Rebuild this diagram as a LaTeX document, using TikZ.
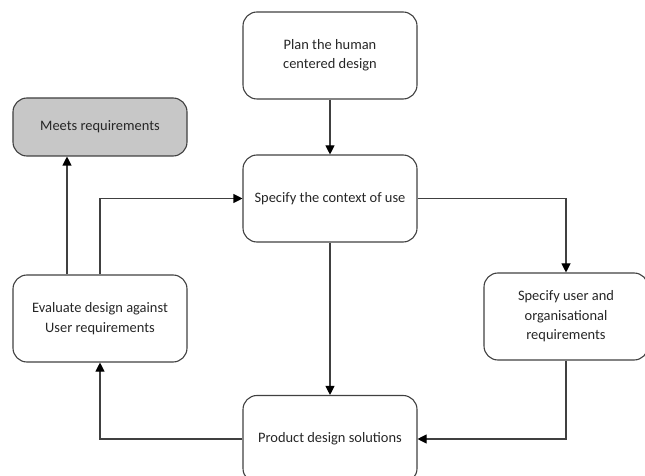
\documentclass[tikz,border=0pt]{standalone}
\usepackage{fontspec}
\setmainfont{Carlito}
\usetikzlibrary{arrows.meta}

\begin{document}
\begin{tikzpicture}
[x=1bp,y=-1bp,every node/.style={draw=black!75,line width=1.1bp,rounded corners=14bp,align=center,
 text=black!85,font=\fontsize{14.5}{19.5}\selectfont,minimum width=174bp,minimum height=87bp,inner sep=2bp},
 arr/.style={draw=black!75,line width=1.1bp,-{Triangle[length=9bp,width=9bp,color=black]}}]
\useasboundingbox (0,0) rectangle (645,476);
\node (plan) at (330,55.5) {Plan the human\\centered design};
\node (ctx) at (330,198.5) {Specify the context of use};
\node[fill=black!22,minimum height=58bp] (meets) at (100,127) {Meets requirements};
\node (eval) at (100,318.5) {Evaluate design against\\User requirements};
\node[minimum width=164bp] (user) at (566,316.5) {Specify user and\\organisational\\requirements};
\node (prod) at (330,439) {Product design solutions};
\draw[arr] (plan) -- (ctx);
\draw[arr] (ctx) -- (prod);
\draw[arr] (ctx.east) -| (user.north);
\draw[arr] (user.south) |- (prod.east);
\draw[arr] (prod.west) -| (eval.south);
\draw[arr] (eval.north) |- (ctx.west);
\draw[arr] ([xshift=-33bp]eval.north) -- ([xshift=-33bp]meets.south);
\end{tikzpicture}
\end{document}
